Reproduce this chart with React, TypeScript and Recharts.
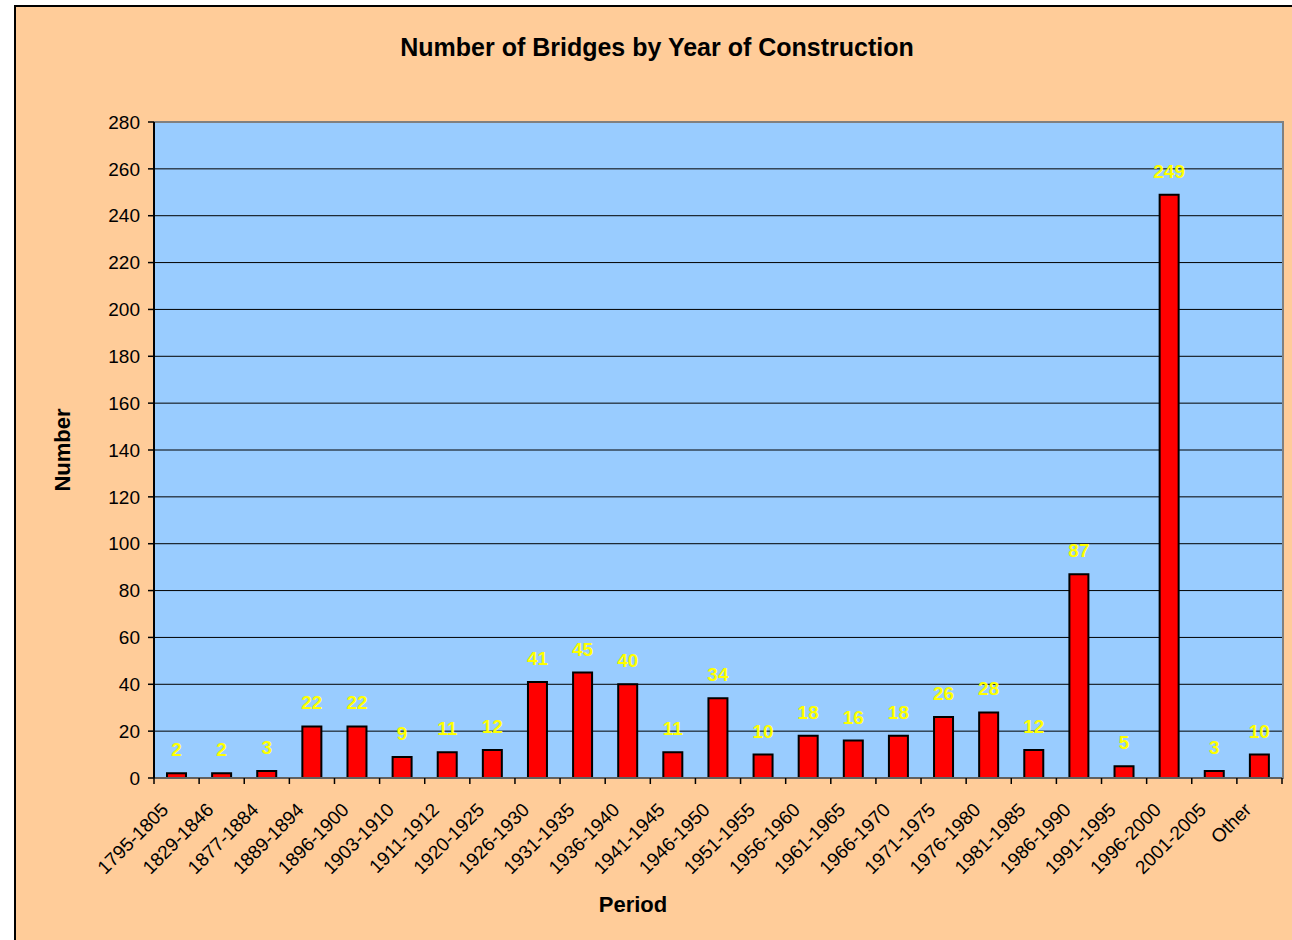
import React from 'react';
import { BarChart, Bar, XAxis, YAxis, CartesianGrid, LabelList } from 'recharts';

// Periods and bridge counts
const periods = [
  '1795-1805', '1829-1846', '1877-1884', '1889-1894', '1896-1900', '1903-1910',
  '1911-1912', '1920-1925', '1926-1930', '1931-1935', '1936-1940', '1941-1945',
  '1946-1950', '1951-1955', '1956-1960', '1961-1965', '1966-1970', '1971-1975',
  '1976-1980', '1981-1985', '1986-1990', '1991-1995', '1996-2000', '2001-2005', 'Other',
];
const counts = [2, 2, 3, 22, 22, 9, 11, 12, 41, 45, 40, 11, 34, 10, 18, 16, 18, 26, 28, 12, 87, 5, 249, 3, 10];
const yTicks = [0, 20, 40, 60, 80, 100, 120, 140, 160, 180, 200, 220, 240, 260, 280];

const data = periods.map((period, i) => ({ period, count: counts[i] }));

const W = 1292;
const H = 940;
const PLOT_LEFT = 154;
const PLOT_TOP = 122;
const PLOT_RIGHT = 1282;
const PLOT_BOTTOM = 778;
const band = (PLOT_RIGHT - PLOT_LEFT) / periods.length;
const font = '"Liberation Sans", Arial, sans-serif';

const PeriodTick = (props: any) => {
  const { x, y, payload, index } = props;
  const left = x - band / 2;
  const ax = x - 7;
  const ay = y + 33;
  return (
    <g>
      <line x1={left} y1={y} x2={left} y2={y + 6} stroke="#000" strokeWidth={1.5} />
      {index === periods.length - 1 && (
        <line x1={x + band / 2} y1={y} x2={x + band / 2} y2={y + 6} stroke="#000" strokeWidth={1.5} />
      )}
      <text
        x={ax}
        y={ay}
        transform={`rotate(-45, ${ax}, ${ay})`}
        textAnchor="end"
        fontSize={19}
        fontFamily={font}
        fill="#000"
      >
        {payload.value}
      </text>
    </g>
  );
};

export default function App() {
  return (
    <div style={{ position: 'absolute', left: 0, top: 0, width: W, height: H, background: '#fff', overflow: 'hidden' }}>
      <div
        style={{
          position: 'absolute',
          left: 14,
          top: 5,
          width: W,
          height: H,
          background: '#FFCC99',
          borderLeft: '2px solid #000',
          borderTop: '2px solid #000',
        }}
      />
      <div
        style={{
          position: 'absolute',
          left: PLOT_LEFT,
          top: PLOT_TOP - 1,
          width: PLOT_RIGHT - PLOT_LEFT,
          height: PLOT_BOTTOM - PLOT_TOP,
          background: '#99CCFF',
          borderTop: '2px solid #808080',
          borderRight: '2px solid #808080',
        }}
      />
      <div
        style={{
          position: 'absolute',
          left: 657,
          top: 47,
          transform: 'translate(-50%, -50%)',
          whiteSpace: 'nowrap',
          fontFamily: font,
          fontWeight: 'bold',
          fontSize: 25,
        }}
      >
        Number of Bridges by Year of Construction
      </div>
      <div
        style={{
          position: 'absolute',
          left: 63,
          top: 450,
          transform: 'translate(-50%, -50%) rotate(-90deg)',
          fontFamily: font,
          fontWeight: 'bold',
          fontSize: 22,
        }}
      >
        Number
      </div>
      <div
        style={{
          position: 'absolute',
          left: 633,
          top: 905,
          transform: 'translate(-50%, -50%)',
          fontFamily: font,
          fontWeight: 'bold',
          fontSize: 22,
        }}
      >
        Period
      </div>
      <div style={{ position: 'absolute', left: 0, top: 0 }}>
        <BarChart
          width={W}
          height={H}
          data={data}
          margin={{ left: 0, top: PLOT_TOP, right: W - PLOT_RIGHT, bottom: 0 }}
          barCategoryGap={0}
        >
          <CartesianGrid vertical={false} stroke="#000" strokeWidth={1} horizontalValues={yTicks.slice(1, -1)} />
          <XAxis
            dataKey="period"
            interval={0}
            tickLine={false}
            tickSize={0}
            tickMargin={0}
            axisLine={{ stroke: '#606060', strokeWidth: 2 }}
            tick={<PeriodTick />}
            height={H - PLOT_BOTTOM}
          />
          <YAxis
            type="number"
            domain={[0, 280]}
            ticks={yTicks}
            interval={0}
            width={PLOT_LEFT}
            axisLine={{ stroke: '#000', strokeWidth: 2 }}
            tickLine={{ stroke: '#000', strokeWidth: 1.5 }}
            tickSize={6}
            tickMargin={8}
            tick={{ fill: '#000', fontSize: 19, fontFamily: font }}
          />
          <Bar dataKey="count" fill="#FF0000" stroke="#000" strokeWidth={2} barSize={19} isAnimationActive={false}>
            <LabelList
              dataKey="count"
              position="top"
              offset={17}
              fill="#FFFF00"
              fontSize={19}
              fontWeight="bold"
              fontFamily={font}
            />
          </Bar>
        </BarChart>
      </div>
    </div>
  );
}
